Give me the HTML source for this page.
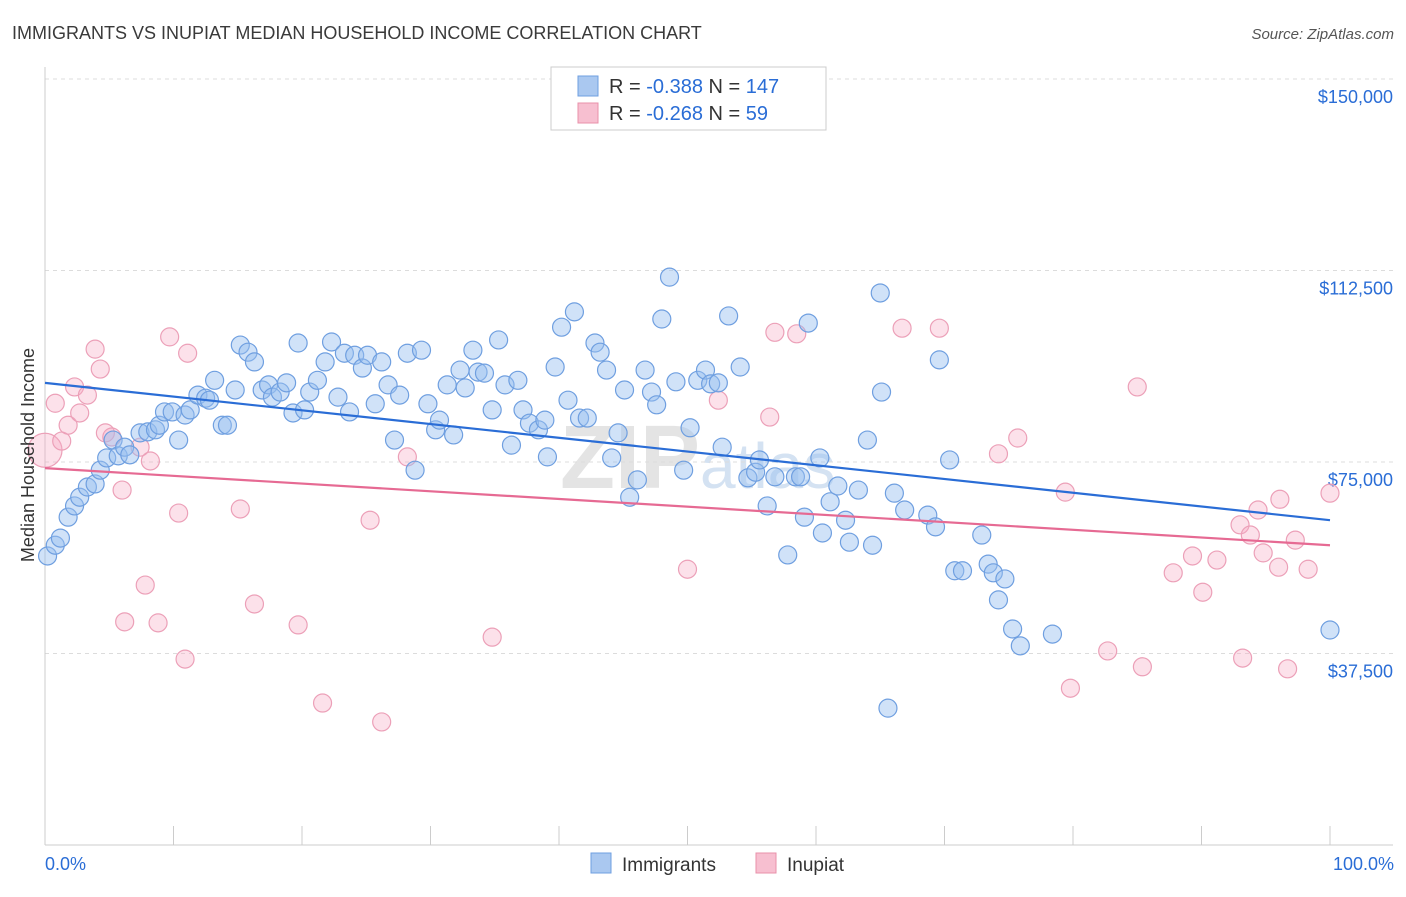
<!DOCTYPE html>
<html><head><meta charset="utf-8"><style>
body{margin:0;background:#fff;font-family:"Liberation Sans",sans-serif;}
svg text{font-family:"Liberation Sans",sans-serif;}
</style></head><body>
<svg id="chart" width="1406" height="892" viewBox="0 0 1406 892" xmlns="http://www.w3.org/2000/svg">
<text x="12" y="39" font-size="18" fill="#3a3a3a">IMMIGRANTS VS INUPIAT MEDIAN HOUSEHOLD INCOME CORRELATION CHART</text>
<text x="1394" y="39" font-size="15" fill="#555" text-anchor="end" font-style="italic">Source: ZipAtlas.com</text>
<text x="560" y="488" font-size="90" fill="#e4e4e4" font-family="Liberation Serif" font-weight="bold">ZIP<tspan font-size="64" fill="#d4e2f2" font-family="Liberation Sans" font-weight="normal">atlas</tspan></text>
<g id="grid"></g>
<g id="axes"></g>
<g id="marks"></g>
<text transform="translate(34,455) rotate(-90)" font-size="18" fill="#333" text-anchor="middle">Median Household Income</text>
<g>
<rect x="551" y="67" width="275" height="63" fill="#fff" stroke="#ccc"/>
<rect x="578" y="76" width="20" height="20" fill="#aac8f0" stroke="#6f9fe0"/>
<text x="609" y="93" font-size="20" fill="#333">R = <tspan fill="#2a6dd6">-0.388</tspan>   N = <tspan fill="#2a6dd6">147</tspan></text>
<rect x="578" y="103" width="20" height="20" fill="#f7bfd0" stroke="#e890aa"/>
<text x="609" y="120" font-size="20" fill="#333">R = <tspan fill="#2a6dd6">-0.268</tspan>   N =  <tspan fill="#2a6dd6"> 59</tspan></text>
</g>
<g>
<rect x="591" y="853" width="20" height="20" fill="#aac8f0" stroke="#6f9fe0"/>
<text x="622" y="871" font-size="19" fill="#333">Immigrants</text>
<rect x="756" y="853" width="20" height="20" fill="#f7bfd0" stroke="#e890aa"/>
<text x="787" y="871" font-size="19" fill="#333">Inupiat</text>
</g>
</svg>
<script>
const yTicks=[37.5,75,112.5,150];
const yTickLabels=["$37,500","$75,000","$112,500","$150,000"];
const xTickLabels=["0.0%","100.0%"];
const blueX=[0.2,0.8,1.2,1.8,2.3,2.7,3.3,3.9,4.3,4.8,5.3,5.7,6.2,6.6,7.4,8.0,8.6,8.9,9.3,9.9,10.4,10.9,11.3,11.9,12.5,12.8,13.2,13.8,14.2,14.8,15.2,15.8,16.3,16.9,17.4,17.7,18.3,18.8,19.3,19.7,20.2,20.6,21.2,21.8,22.3,22.8,23.3,23.7,24.1,24.7,25.1,25.7,26.2,26.7,27.2,27.6,28.2,28.8,29.3,29.8,30.4,30.7,31.3,31.8,32.3,32.7,33.3,33.7,34.2,34.8,35.3,35.8,36.3,36.8,37.2,37.7,38.4,38.9,39.1,39.7,40.2,40.7,41.2,41.6,42.2,42.8,43.2,43.7,44.1,44.6,45.1,45.5,46.1,46.7,47.2,47.6,48.0,48.6,49.1,49.7,50.2,50.8,51.4,51.8,52.4,52.7,53.2,54.1,54.7,55.3,55.6,56.2,56.8,57.8,58.4,58.8,59.1,59.4,60.3,60.5,61.1,61.7,62.3,62.6,63.3,64.0,64.4,65.0,65.1,66.1,66.9,68.7,69.3,69.6,70.4,70.8,71.4,72.9,73.4,73.8,74.2,74.7,75.3,75.9,78.4,100,65.6];
const blueY=[56.6,58.7,60.1,64.2,66.4,68.1,70.1,70.7,73.4,75.8,79.3,76.2,77.9,76.4,80.7,80.9,81.3,82.2,84.8,84.8,79.3,84.2,85.2,88.1,87.5,87.1,91.0,82.2,82.2,89.1,97.9,96.5,94.6,89.1,90.1,87.7,88.7,90.5,84.6,98.3,85.2,88.7,91.0,94.6,98.5,87.7,96.3,84.8,95.9,93.4,95.9,86.4,94.6,90.1,79.3,88.1,96.3,73.4,96.9,86.4,81.3,83.2,90.1,80.3,93.0,89.5,96.9,92.6,92.4,85.2,98.9,90.1,78.3,91.0,85.2,82.6,81.3,83.2,76.0,93.6,101.4,87.1,104.4,83.6,83.6,98.3,96.5,93.0,75.8,80.7,89.1,68.1,71.5,93.0,88.7,86.2,103.0,111.2,90.7,73.4,81.7,91.0,93.0,90.3,90.5,77.9,103.6,93.6,71.9,73.0,75.4,66.4,72.1,56.8,72.1,72.1,64.2,102.2,75.8,61.1,67.2,70.3,63.6,59.3,69.5,79.3,58.7,108.1,88.7,68.9,65.6,64.6,62.3,95.0,75.4,53.7,53.7,60.7,55.0,53.3,48.0,52.1,42.3,39.0,41.3,42.1,26.8];
const pinkX=[0,0.8,1.3,1.8,2.3,2.7,3.3,3.9,4.3,4.7,5.2,6.0,6.2,7.4,7.8,8.2,8.8,9.7,10.4,10.9,11.1,15.2,16.3,19.7,21.6,25.3,26.2,28.2,34.8,50.0,52.4,56.4,56.8,58.5,66.7,69.6,74.2,75.7,79.4,79.8,82.7,85.0,85.4,87.8,89.3,90.1,91.2,93.0,93.2,93.8,94.4,94.8,96.0,96.1,96.7,97.3,98.3,100];
const pinkY=[77.3,86.5,79.1,82.2,89.7,84.6,88.1,97.1,93.2,80.7,79.9,69.5,43.7,77.9,50.9,75.2,43.5,99.5,65.0,36.4,96.3,65.8,47.2,43.1,27.8,63.6,24.1,76.0,40.7,54.0,87.1,83.8,100.4,100.1,101.2,101.2,76.6,79.7,69.1,30.7,38.0,89.7,34.9,53.3,56.6,49.5,55.8,62.7,36.6,60.7,65.6,57.2,54.4,67.7,34.5,59.7,54.0,68.9];
const blueTrend=[90.5,63.6];
const pinkTrend=[73.8,58.7];
const NS="http://www.w3.org/2000/svg";
const X0=45,X1=1330,Y0=845,YPX=191.5/37.5;
function sx(v){return X0+(X1-X0)*v/100;}
function sy(v){return Y0-v*YPX;}
function mk(tag,attrs,parent){const e=document.createElementNS(NS,tag);for(const k in attrs)e.setAttribute(k,attrs[k]);parent.appendChild(e);return e;}
const grid=document.getElementById('grid'),axes=document.getElementById('axes'),marks=document.getElementById('marks');
yTicks.forEach((t,i)=>{
 const l=mk('line',{x1:X0,x2:1393,y1:sy(t),y2:sy(t),stroke:'#dcdcdc','stroke-dasharray':'4,4'},grid);
 
 
 const tx=mk('text',{x:1393,y:sy(t)+24,'font-size':18,fill:'#2a6dd6','text-anchor':'end'},axes);
 tx.textContent=yTickLabels[i];
 
 
});
const ax=mk('line',{x1:X0,x2:X0,y1:67,y2:Y0,stroke:'#ccc'},axes);


const bx=mk('line',{x1:X0,x2:1393,y1:Y0,y2:Y0,stroke:'#ccc'},axes);


for(let i=0;i<=10;i++){
 const t=mk('line',{x1:sx(i*10),x2:sx(i*10),y1:826,y2:Y0,stroke:'#ccc'},axes);
 
 
}
[[0,'start',45],[100,'end',1394]].forEach((d,i)=>{
 const t=mk('text',{x:d[2],y:870,'font-size':18,fill:'#2a6dd6','text-anchor':d[1]},axes);
 t.textContent=xTickLabels[i];
 
 
});
pinkX.forEach((x,i)=>{
 const c=mk('circle',{cx:sx(x),cy:sy(pinkY[i]),r:i===0?17:9,fill:'rgba(245,170,195,0.35)',stroke:'#eca0b8','stroke-width':1.2},marks);
 
 
});
blueX.forEach((x,i)=>{
 const c=mk('circle',{cx:sx(x),cy:sy(blueY[i]),r:9,fill:'rgba(150,190,240,0.45)',stroke:'#6f9fe0','stroke-width':1.2},marks);
 
 
});
const bl=mk('line',{x1:sx(0),x2:sx(100),y1:sy(blueTrend[0]),y2:sy(blueTrend[1]),stroke:'#2a6dd6','stroke-width':2.2},marks);


const pl=mk('line',{x1:sx(0),x2:sx(100),y1:sy(pinkTrend[0]),y2:sy(pinkTrend[1]),stroke:'#e66a93','stroke-width':2.2},marks);


</script>
</body></html>
